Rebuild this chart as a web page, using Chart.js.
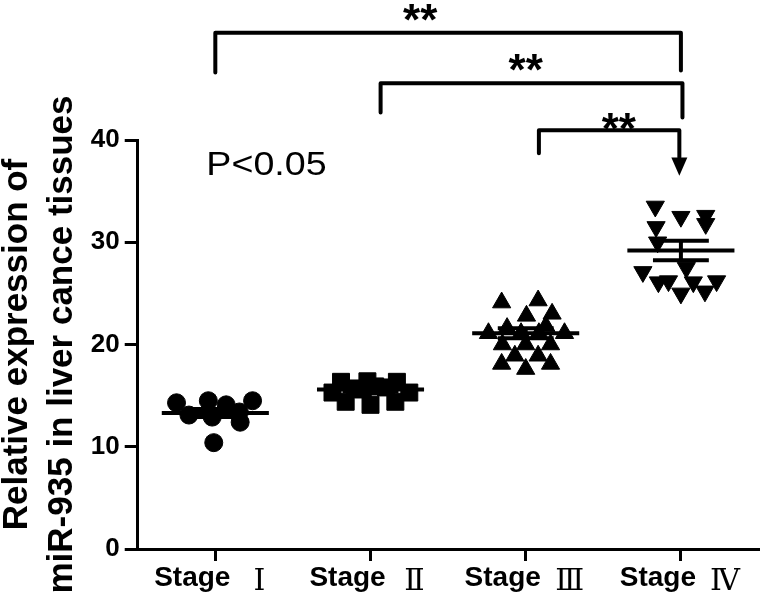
<!DOCTYPE html>
<html>
<head>
<meta charset="utf-8">
<script src="https://cdn.jsdelivr.net/npm/chart.js@4.4.0/dist/chart.umd.min.js"></script>
<style>
  html, body { margin: 0; padding: 0; background: #fff; }
  #wrap { width: 760px; height: 597px; }
</style>
</head>
<body>
<div id="wrap"><canvas id="scatterChart"></canvas></div>
<script>
"use strict";

const stageNames = ["Stage Ⅰ", "Stage Ⅱ", "Stage Ⅲ", "Stage Ⅳ"];
const yTicks = [0, 10, 20, 30, 40];

// horizontal spread of each dot inside its column (in category units) + its value
const stage1Spread = [-0.25, -0.045, 0.07, 0.24, -0.17, -0.02, 0.155, 0.16, -0.01];
const stage1Values = [14.3, 14.5, 14.1, 14.5, 13.1, 12.9, 13.4, 12.4, 10.4];

const stage2Spread = [-0.19, -0.02, 0.17, -0.245, 0.25, -0.1, 0.1, -0.16, 0, 0.16, 0.03, -0.05];
const stage2Values = [16.35, 16.4, 16.35, 15.3, 15.3, 15.7, 15.8, 14.4, 14.1, 14.4, 15.9, 15.6];

const stage3Spread = [-0.155, 0.08, 0.005, 0.17, -0.24, 0.25, -0.15, 0, 0.16, -0.155, -0.07, 0.08, 0.16, 0, -0.03, 0.085, -0.12, 0.13];
const stage3Values = [24.1, 24.3, 22.8, 23.0, 21.1, 21.1, 20.0, 20.0, 20.0, 18.1, 18.9, 18.9, 18.1, 17.6, 21.1, 21.1, 21.6, 21.8];

const stage4Spread = [-0.165, 0, 0.16, 0.16, -0.16, -0.245, -0.145, -0.08, 0, 0.08, 0.155, 0.23, 0.035, -0.15];
const stage4Values = [33.5, 32.5, 32.6, 31.8, 31.5, 27.1, 26.1, 26.2, 25.0, 26.1, 25.2, 26.2, 27.5, 30.0];

const means = [13.3, 15.6, 21.1, 29.2];
const sems = [0.4, 0.2, 0.5, 0.95];

// significance brackets, in axis units
const brackets = [
  { from: 0, to: 3, top: 50.5, leftFoot: 46.6, rightFoot: 46.8, starX: 1.32, starY: 50.3 },
  { from: 1.065, to: 3.01, top: 45.55, leftFoot: 42.7, rightFoot: 42.2, starX: 2.0, starY: 45.4 },
  { from: 2.085, to: 2.99, top: 40.95, leftFoot: 38.7, rightFoot: 38.3, starX: 2.6, starY: 39.65, arrowTip: 36.5 },
];
const pText = "P<0.05";
const pPos = { x: -0.058, y: 36.56 };

const SANS = "'Liberation Sans', Arial, sans-serif";

function points(group, spread, values) {
  return values.map((v, i) => ({ x: group + spread[i], y: v }));
}

// mean line + SEM bars, broken with nulls
function meanBars() {
  const out = [];
  means.forEach((m, i) => {
    const s = sems[i];
    out.push({ x: i - 0.345, y: m }, { x: i + 0.345, y: m }, { x: i, y: null });
    out.push({ x: i - 0.18, y: m + s }, { x: i + 0.18, y: m + s }, { x: i, y: null });
    out.push({ x: i - 0.18, y: m - s }, { x: i + 0.18, y: m - s }, { x: i, y: null });
    out.push({ x: i, y: m - s }, { x: i, y: m + s }, { x: i, y: null });
  });
  return out;
}

const dotStyle = (style, radius, rotation) => ({
  pointStyle: style,
  pointRadius: radius,
  pointRotation: rotation || 0,
  pointBackgroundColor: "#000",
  pointBorderColor: "#000",
  pointBorderWidth: 1,
  showLine: false,
});

const extras = {
  id: "extras",
  afterDraw(chart) {
    const { ctx, scales: { x, y } } = chart;
    ctx.save();
    ctx.fillStyle = "#000";
    ctx.strokeStyle = "#000";

    // x labels: bold "Stage" + serif roman numeral
    stageNames.forEach((name, i) => {
      const [word, num] = name.split(" ");
      const px = x.getPixelForValue(i);
      ctx.textAlign = "center";
      ctx.textBaseline = "alphabetic";
      ctx.font = "bold 28px " + SANS;
      ctx.fillText(word, px - 23, x.bottom + 25);
      ctx.font = "30px 'DejaVu Serif', 'Liberation Serif', serif";
      ctx.fillText(num, px + 44, x.bottom + 29);
    });

    // brackets
    ctx.lineWidth = 4;
    ctx.lineCap = "round";
    ctx.lineJoin = "round";
    brackets.forEach((b) => {
      const x1 = x.getPixelForValue(b.from);
      const x2 = x.getPixelForValue(b.to);
      const yt = y.getPixelForValue(b.top);
      ctx.beginPath();
      ctx.moveTo(x1, y.getPixelForValue(b.leftFoot));
      ctx.lineTo(x1, yt);
      ctx.lineTo(x2, yt);
      ctx.lineTo(x2, y.getPixelForValue(b.rightFoot));
      ctx.stroke();
      if (b.arrowTip !== undefined) {
        const yb = y.getPixelForValue(b.rightFoot);
        ctx.beginPath();
        ctx.moveTo(x2 - 8, yb);
        ctx.lineTo(x2 + 8, yb);
        ctx.lineTo(x2, y.getPixelForValue(b.arrowTip));
        ctx.closePath();
        ctx.fill();
      }
      ctx.font = "bold 44px " + SANS;
      ctx.textAlign = "center";
      ctx.fillText("**", x.getPixelForValue(b.starX), y.getPixelForValue(b.starY));
    });

    // P value, slightly wide like the original
    const tx = x.getPixelForValue(pPos.x);
    const ty = y.getPixelForValue(pPos.y);
    ctx.translate(tx, ty);
    ctx.scale(1.14, 1);
    ctx.font = "33px " + SANS;
    ctx.textAlign = "left";
    ctx.fillText(pText, 0, 0);
    ctx.restore();
  },
};

const ctx = document.getElementById("scatterChart").getContext("2d");

const myChart = new Chart(ctx, {
  type: "scatter",
  data: {
    datasets: [
      {
        label: "mean",
        data: meanBars(),
        showLine: true,
        borderColor: "#000",
        borderWidth: 4,
        pointRadius: 0,
        spanGaps: false,
      },
      { label: stageNames[0], data: points(0, stage1Spread, stage1Values), ...dotStyle("circle", 9) },
      { label: stageNames[1], data: points(1, stage2Spread, stage2Values), ...dotStyle("rect", 12) },
      { label: stageNames[2], data: points(2, stage3Spread, stage3Values), ...dotStyle("triangle", 10.5) },
      { label: stageNames[3], data: points(3, stage4Spread, stage4Values), ...dotStyle("triangle", 10.5, 180) },
    ],
  },
  options: {
    responsive: true,
    maintainAspectRatio: false,
    animation: false,
    events: [],
    layout: { autoPadding: false, padding: { top: 140, bottom: 36, left: -5, right: 1.5 } },
    plugins: { legend: { display: false }, tooltip: { enabled: false } },
    scales: {
      x: {
        type: "linear",
        min: -0.5,
        max: 3.5,
        afterBuildTicks: (s) => { s.ticks = stageNames.map((_, i) => ({ value: i })); },
        ticks: { display: false },
        grid: { drawOnChartArea: false, drawTicks: true, tickLength: 12, color: "#000", lineWidth: 3 },
        border: { color: "#000", width: 3 },
      },
      y: {
        min: 0,
        max: 40,
        afterBuildTicks: (s) => { s.ticks = yTicks.map((v) => ({ value: v })); },
        ticks: { color: "#000", padding: 5, font: { family: SANS, size: 26, weight: "bold" } },
        grid: { drawOnChartArea: false, drawTicks: true, tickLength: 13, color: "#000", lineWidth: 3 },
        border: { color: "#000", width: 3 },
        title: {
          display: true,
          text: ["Relative expression of", "miR-935 in liver cance tissues"],
          color: "#000",
          font: { family: SANS, size: 35, weight: "bold", lineHeight: 1.29 },
          padding: { top: 0, bottom: 0.5 },
        },
      },
    },
  },
  plugins: [extras],
});
</script>
</body>
</html>
